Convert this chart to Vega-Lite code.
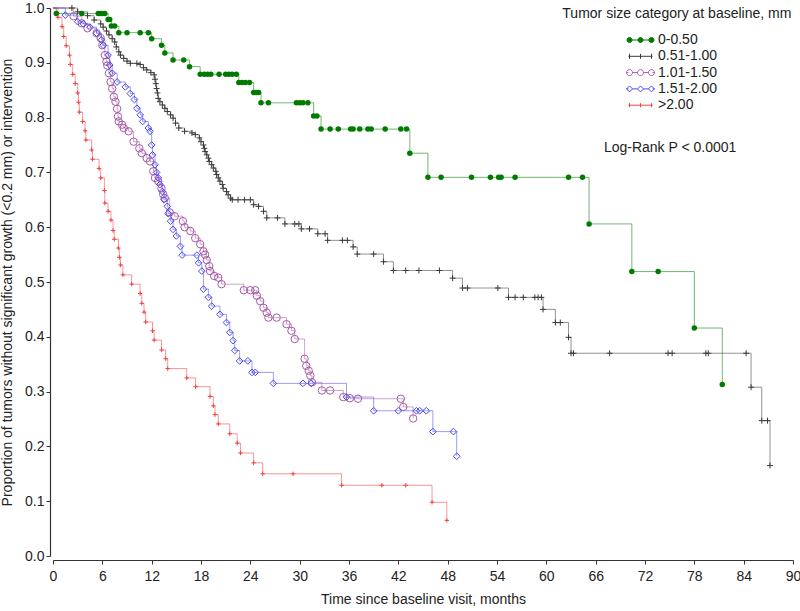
{
  "$schema": "https://vega.github.io/schema/vega-lite/v6.json",
  "width": 740,
  "height": 548,
  "autosize": {"type": "none"},
  "padding": {"left": 53, "top": 8, "right": 7, "bottom": 55},
  "background": "white",
  "config": {
    "view": {"stroke": null},
    "font": "Liberation Sans",
    "axis": {
      "grid": false,
      "labelFont": "Liberation Sans",
      "titleFont": "Liberation Sans",
      "labelFontSize": 14,
      "titleFontSize": 14,
      "titleFontWeight": "normal",
      "labelColor": "#222222",
      "titleColor": "#222222",
      "domainColor": "#333333",
      "tickColor": "#333333",
      "tickSize": 4,
      "domainWidth": 1.2
    }
  },
  "datasets": {
    "km": [
      {"g":"0-0.50","t":0,"p":1,"c":0},{"g":"0-0.50","t":0.4,"p":0.99,"c":1},{"g":"0-0.50","t":3.5,"p":0.99,"c":1},{"g":"0-0.50","t":5.5,"p":0.99,"c":1},{"g":"0-0.50","t":5.8,"p":0.99,"c":1},{"g":"0-0.50","t":6.0,"p":0.99,"c":1},{"g":"0-0.50","t":6.3,"p":0.99,"c":1},{"g":"0-0.50","t":6.7,"p":0.979,"c":1},{"g":"0-0.50","t":6.9,"p":0.979,"c":1},{"g":"0-0.50","t":7.1,"p":0.967,"c":1},{"g":"0-0.50","t":7.5,"p":0.967,"c":1},{"g":"0-0.50","t":8.0,"p":0.955,"c":1},{"g":"0-0.50","t":9.0,"p":0.955,"c":1},{"g":"0-0.50","t":10.6,"p":0.955,"c":1},{"g":"0-0.50","t":11.6,"p":0.955,"c":1},{"g":"0-0.50","t":12.0,"p":0.944,"c":1},{"g":"0-0.50","t":13.2,"p":0.932,"c":1},{"g":"0-0.50","t":13.6,"p":0.918,"c":1},{"g":"0-0.50","t":14.6,"p":0.905,"c":1},{"g":"0-0.50","t":15.9,"p":0.905,"c":1},{"g":"0-0.50","t":16.6,"p":0.893,"c":1},{"g":"0-0.50","t":17.9,"p":0.879,"c":1},{"g":"0-0.50","t":18.4,"p":0.879,"c":1},{"g":"0-0.50","t":18.8,"p":0.879,"c":1},{"g":"0-0.50","t":19.2,"p":0.879,"c":1},{"g":"0-0.50","t":20.2,"p":0.879,"c":1},{"g":"0-0.50","t":21.0,"p":0.879,"c":1},{"g":"0-0.50","t":21.4,"p":0.879,"c":1},{"g":"0-0.50","t":21.8,"p":0.879,"c":1},{"g":"0-0.50","t":22.3,"p":0.879,"c":1},{"g":"0-0.50","t":22.6,"p":0.864,"c":1},{"g":"0-0.50","t":23.0,"p":0.864,"c":1},{"g":"0-0.50","t":23.4,"p":0.864,"c":1},{"g":"0-0.50","t":23.9,"p":0.864,"c":1},{"g":"0-0.50","t":24.4,"p":0.846,"c":1},{"g":"0-0.50","t":24.7,"p":0.846,"c":1},{"g":"0-0.50","t":25.0,"p":0.846,"c":1},{"g":"0-0.50","t":25.3,"p":0.827,"c":1},{"g":"0-0.50","t":26.2,"p":0.827,"c":1},{"g":"0-0.50","t":29.6,"p":0.827,"c":1},{"g":"0-0.50","t":30.0,"p":0.827,"c":1},{"g":"0-0.50","t":30.4,"p":0.827,"c":1},{"g":"0-0.50","t":31.0,"p":0.827,"c":1},{"g":"0-0.50","t":31.7,"p":0.803,"c":1},{"g":"0-0.50","t":32.1,"p":0.803,"c":1},{"g":"0-0.50","t":32.6,"p":0.779,"c":1},{"g":"0-0.50","t":33.7,"p":0.779,"c":1},{"g":"0-0.50","t":34.7,"p":0.779,"c":1},{"g":"0-0.50","t":36.2,"p":0.779,"c":1},{"g":"0-0.50","t":36.5,"p":0.779,"c":1},{"g":"0-0.50","t":37.3,"p":0.779,"c":1},{"g":"0-0.50","t":38.3,"p":0.779,"c":1},{"g":"0-0.50","t":38.7,"p":0.779,"c":1},{"g":"0-0.50","t":40.4,"p":0.779,"c":1},{"g":"0-0.50","t":42.3,"p":0.779,"c":1},{"g":"0-0.50","t":43.0,"p":0.779,"c":1},{"g":"0-0.50","t":43.4,"p":0.735,"c":1},{"g":"0-0.50","t":45.6,"p":0.691,"c":1},{"g":"0-0.50","t":47.2,"p":0.691,"c":1},{"g":"0-0.50","t":50.9,"p":0.691,"c":1},{"g":"0-0.50","t":53.2,"p":0.691,"c":1},{"g":"0-0.50","t":54.2,"p":0.691,"c":1},{"g":"0-0.50","t":54.5,"p":0.691,"c":1},{"g":"0-0.50","t":56.2,"p":0.691,"c":1},{"g":"0-0.50","t":62.7,"p":0.691,"c":1},{"g":"0-0.50","t":64.4,"p":0.691,"c":1},{"g":"0-0.50","t":65.2,"p":0.606,"c":1},{"g":"0-0.50","t":70.4,"p":0.519,"c":1},{"g":"0-0.50","t":73.6,"p":0.519,"c":1},{"g":"0-0.50","t":78.0,"p":0.416,"c":1},{"g":"0-0.50","t":81.4,"p":0.313,"c":1},

      {"g":"0.51-1.00","t":0,"p":1,"c":0},{"g":"0.51-1.00","t":2.3,"p":1,"c":1},{"g":"0.51-1.00","t":3.0,"p":0.993,"c":1},{"g":"0.51-1.00","t":4.2,"p":0.986,"c":1},{"g":"0.51-1.00","t":5.0,"p":0.978,"c":1},{"g":"0.51-1.00","t":5.8,"p":0.971,"c":1},{"g":"0.51-1.00","t":6.1,"p":0.965,"c":1},{"g":"0.51-1.00","t":6.5,"p":0.958,"c":1},{"g":"0.51-1.00","t":6.8,"p":0.951,"c":1},{"g":"0.51-1.00","t":7.2,"p":0.944,"c":1},{"g":"0.51-1.00","t":7.5,"p":0.938,"c":1},{"g":"0.51-1.00","t":7.7,"p":0.929,"c":1},{"g":"0.51-1.00","t":8.0,"p":0.92,"c":1},{"g":"0.51-1.00","t":8.2,"p":0.914,"c":1},{"g":"0.51-1.00","t":8.6,"p":0.908,"c":1},{"g":"0.51-1.00","t":9.0,"p":0.903,"c":1},{"g":"0.51-1.00","t":9.4,"p":0.899,"c":1},{"g":"0.51-1.00","t":10.2,"p":0.899,"c":1},{"g":"0.51-1.00","t":10.6,"p":0.897,"c":1},{"g":"0.51-1.00","t":11.0,"p":0.891,"c":1},{"g":"0.51-1.00","t":11.4,"p":0.887,"c":1},{"g":"0.51-1.00","t":11.9,"p":0.882,"c":1},{"g":"0.51-1.00","t":12.3,"p":0.878,"c":1},{"g":"0.51-1.00","t":12.4,"p":0.87,"c":1},{"g":"0.51-1.00","t":12.5,"p":0.862,"c":1},{"g":"0.51-1.00","t":12.6,"p":0.853,"c":1},{"g":"0.51-1.00","t":12.7,"p":0.845,"c":1},{"g":"0.51-1.00","t":12.8,"p":0.835,"c":1},{"g":"0.51-1.00","t":13.0,"p":0.829,"c":1},{"g":"0.51-1.00","t":13.3,"p":0.823,"c":1},{"g":"0.51-1.00","t":13.6,"p":0.817,"c":1},{"g":"0.51-1.00","t":13.9,"p":0.811,"c":1},{"g":"0.51-1.00","t":14.3,"p":0.805,"c":1},{"g":"0.51-1.00","t":14.6,"p":0.799,"c":1},{"g":"0.51-1.00","t":14.9,"p":0.79,"c":1},{"g":"0.51-1.00","t":15.3,"p":0.781,"c":1},{"g":"0.51-1.00","t":16.0,"p":0.775,"c":1},{"g":"0.51-1.00","t":16.9,"p":0.772,"c":1},{"g":"0.51-1.00","t":17.3,"p":0.769,"c":1},{"g":"0.51-1.00","t":17.8,"p":0.763,"c":1},{"g":"0.51-1.00","t":18.0,"p":0.756,"c":1},{"g":"0.51-1.00","t":18.3,"p":0.75,"c":1},{"g":"0.51-1.00","t":18.4,"p":0.744,"c":1},{"g":"0.51-1.00","t":18.5,"p":0.738,"c":1},{"g":"0.51-1.00","t":18.7,"p":0.732,"c":1},{"g":"0.51-1.00","t":18.9,"p":0.726,"c":1},{"g":"0.51-1.00","t":19.0,"p":0.72,"c":1},{"g":"0.51-1.00","t":19.3,"p":0.714,"c":1},{"g":"0.51-1.00","t":19.5,"p":0.708,"c":1},{"g":"0.51-1.00","t":19.8,"p":0.702,"c":1},{"g":"0.51-1.00","t":19.9,"p":0.696,"c":1},{"g":"0.51-1.00","t":20.1,"p":0.69,"c":1},{"g":"0.51-1.00","t":20.3,"p":0.684,"c":1},{"g":"0.51-1.00","t":20.6,"p":0.678,"c":1},{"g":"0.51-1.00","t":20.7,"p":0.671,"c":1},{"g":"0.51-1.00","t":21.1,"p":0.665,"c":1},{"g":"0.51-1.00","t":21.3,"p":0.659,"c":1},{"g":"0.51-1.00","t":21.6,"p":0.653,"c":1},{"g":"0.51-1.00","t":21.8,"p":0.65,"c":1},{"g":"0.51-1.00","t":22.5,"p":0.65,"c":1},{"g":"0.51-1.00","t":23.3,"p":0.65,"c":1},{"g":"0.51-1.00","t":24.0,"p":0.65,"c":1},{"g":"0.51-1.00","t":24.4,"p":0.641,"c":1},{"g":"0.51-1.00","t":25.0,"p":0.638,"c":1},{"g":"0.51-1.00","t":25.6,"p":0.629,"c":1},{"g":"0.51-1.00","t":26.0,"p":0.617,"c":1},{"g":"0.51-1.00","t":27.3,"p":0.617,"c":1},{"g":"0.51-1.00","t":28.2,"p":0.606,"c":1},{"g":"0.51-1.00","t":29.4,"p":0.606,"c":1},{"g":"0.51-1.00","t":29.9,"p":0.606,"c":1},{"g":"0.51-1.00","t":30.2,"p":0.597,"c":1},{"g":"0.51-1.00","t":31.2,"p":0.597,"c":1},{"g":"0.51-1.00","t":32.2,"p":0.588,"c":1},{"g":"0.51-1.00","t":33.1,"p":0.588,"c":1},{"g":"0.51-1.00","t":33.4,"p":0.576,"c":1},{"g":"0.51-1.00","t":35.2,"p":0.576,"c":1},{"g":"0.51-1.00","t":35.8,"p":0.576,"c":1},{"g":"0.51-1.00","t":36.5,"p":0.564,"c":1},{"g":"0.51-1.00","t":37.0,"p":0.551,"c":1},{"g":"0.51-1.00","t":39.0,"p":0.551,"c":1},{"g":"0.51-1.00","t":40.2,"p":0.537,"c":1},{"g":"0.51-1.00","t":41.4,"p":0.521,"c":1},{"g":"0.51-1.00","t":42.9,"p":0.521,"c":1},{"g":"0.51-1.00","t":44.5,"p":0.521,"c":1},{"g":"0.51-1.00","t":47.0,"p":0.521,"c":1},{"g":"0.51-1.00","t":48.6,"p":0.507,"c":1},{"g":"0.51-1.00","t":49.8,"p":0.489,"c":1},{"g":"0.51-1.00","t":50.4,"p":0.489,"c":1},{"g":"0.51-1.00","t":54.1,"p":0.489,"c":1},{"g":"0.51-1.00","t":55.4,"p":0.472,"c":1},{"g":"0.51-1.00","t":56.2,"p":0.472,"c":1},{"g":"0.51-1.00","t":57.2,"p":0.472,"c":1},{"g":"0.51-1.00","t":58.6,"p":0.472,"c":1},{"g":"0.51-1.00","t":59.0,"p":0.472,"c":1},{"g":"0.51-1.00","t":59.4,"p":0.472,"c":1},{"g":"0.51-1.00","t":59.6,"p":0.45,"c":1},{"g":"0.51-1.00","t":61.1,"p":0.426,"c":1},{"g":"0.51-1.00","t":61.7,"p":0.426,"c":1},{"g":"0.51-1.00","t":62.7,"p":0.399,"c":1},{"g":"0.51-1.00","t":63.0,"p":0.37,"c":1},{"g":"0.51-1.00","t":63.3,"p":0.37,"c":1},{"g":"0.51-1.00","t":67.7,"p":0.37,"c":1},{"g":"0.51-1.00","t":74.8,"p":0.37,"c":1},{"g":"0.51-1.00","t":75.3,"p":0.37,"c":1},{"g":"0.51-1.00","t":79.4,"p":0.37,"c":1},{"g":"0.51-1.00","t":79.7,"p":0.37,"c":1},{"g":"0.51-1.00","t":84.3,"p":0.37,"c":1},{"g":"0.51-1.00","t":84.9,"p":0.308,"c":1},{"g":"0.51-1.00","t":86.2,"p":0.247,"c":1},{"g":"0.51-1.00","t":86.9,"p":0.247,"c":1},{"g":"0.51-1.00","t":87.2,"p":0.165,"c":1},

      {"g":"1.01-1.50","t":0,"p":1,"c":0},{"g":"1.01-1.50","t":2.5,"p":0.985,"c":1},{"g":"1.01-1.50","t":3.5,"p":0.972,"c":1},{"g":"1.01-1.50","t":4.2,"p":0.963,"c":1},{"g":"1.01-1.50","t":5.3,"p":0.954,"c":1},{"g":"1.01-1.50","t":5.8,"p":0.945,"c":1},{"g":"1.01-1.50","t":6.0,"p":0.932,"c":1},{"g":"1.01-1.50","t":6.3,"p":0.914,"c":1},{"g":"1.01-1.50","t":6.5,"p":0.902,"c":1},{"g":"1.01-1.50","t":6.6,"p":0.895,"c":1},{"g":"1.01-1.50","t":6.8,"p":0.881,"c":1},{"g":"1.01-1.50","t":7.0,"p":0.865,"c":1},{"g":"1.01-1.50","t":7.2,"p":0.853,"c":1},{"g":"1.01-1.50","t":7.4,"p":0.838,"c":1},{"g":"1.01-1.50","t":7.6,"p":0.829,"c":1},{"g":"1.01-1.50","t":7.8,"p":0.816,"c":1},{"g":"1.01-1.50","t":7.9,"p":0.802,"c":1},{"g":"1.01-1.50","t":8.0,"p":0.793,"c":1},{"g":"1.01-1.50","t":8.4,"p":0.787,"c":1},{"g":"1.01-1.50","t":8.6,"p":0.781,"c":1},{"g":"1.01-1.50","t":9.2,"p":0.775,"c":1},{"g":"1.01-1.50","t":9.8,"p":0.756,"c":1},{"g":"1.01-1.50","t":10.5,"p":0.744,"c":1},{"g":"1.01-1.50","t":10.8,"p":0.735,"c":1},{"g":"1.01-1.50","t":11.4,"p":0.726,"c":1},{"g":"1.01-1.50","t":11.8,"p":0.72,"c":1},{"g":"1.01-1.50","t":12.2,"p":0.702,"c":1},{"g":"1.01-1.50","t":12.4,"p":0.69,"c":1},{"g":"1.01-1.50","t":12.8,"p":0.684,"c":1},{"g":"1.01-1.50","t":13.2,"p":0.671,"c":1},{"g":"1.01-1.50","t":13.4,"p":0.66,"c":1},{"g":"1.01-1.50","t":13.6,"p":0.653,"c":1},{"g":"1.01-1.50","t":14.2,"p":0.627,"c":1},{"g":"1.01-1.50","t":14.8,"p":0.62,"c":1},{"g":"1.01-1.50","t":15.8,"p":0.611,"c":1},{"g":"1.01-1.50","t":16.0,"p":0.6,"c":1},{"g":"1.01-1.50","t":16.7,"p":0.593,"c":1},{"g":"1.01-1.50","t":17.3,"p":0.58,"c":1},{"g":"1.01-1.50","t":17.9,"p":0.569,"c":1},{"g":"1.01-1.50","t":18.3,"p":0.556,"c":1},{"g":"1.01-1.50","t":18.5,"p":0.55,"c":1},{"g":"1.01-1.50","t":18.7,"p":0.54,"c":1},{"g":"1.01-1.50","t":19.0,"p":0.529,"c":1},{"g":"1.01-1.50","t":19.1,"p":0.52,"c":1},{"g":"1.01-1.50","t":19.6,"p":0.511,"c":1},{"g":"1.01-1.50","t":20.1,"p":0.508,"c":1},{"g":"1.01-1.50","t":20.5,"p":0.496,"c":1},{"g":"1.01-1.50","t":23.2,"p":0.485,"c":1},{"g":"1.01-1.50","t":24.0,"p":0.485,"c":1},{"g":"1.01-1.50","t":24.6,"p":0.485,"c":1},{"g":"1.01-1.50","t":24.8,"p":0.475,"c":1},{"g":"1.01-1.50","t":25.2,"p":0.465,"c":1},{"g":"1.01-1.50","t":25.6,"p":0.453,"c":1},{"g":"1.01-1.50","t":26.0,"p":0.444,"c":1},{"g":"1.01-1.50","t":26.2,"p":0.435,"c":1},{"g":"1.01-1.50","t":27.2,"p":0.435,"c":1},{"g":"1.01-1.50","t":28.4,"p":0.423,"c":1},{"g":"1.01-1.50","t":29.0,"p":0.411,"c":1},{"g":"1.01-1.50","t":29.4,"p":0.396,"c":1},{"g":"1.01-1.50","t":30.6,"p":0.36,"c":1},{"g":"1.01-1.50","t":30.8,"p":0.347,"c":1},{"g":"1.01-1.50","t":31.1,"p":0.338,"c":1},{"g":"1.01-1.50","t":31.3,"p":0.329,"c":1},{"g":"1.01-1.50","t":31.5,"p":0.317,"c":1},{"g":"1.01-1.50","t":32.7,"p":0.302,"c":1},{"g":"1.01-1.50","t":33.7,"p":0.302,"c":1},{"g":"1.01-1.50","t":35.3,"p":0.29,"c":1},{"g":"1.01-1.50","t":36.1,"p":0.288,"c":1},{"g":"1.01-1.50","t":37.1,"p":0.287,"c":1},{"g":"1.01-1.50","t":42.3,"p":0.287,"c":1},{"g":"1.01-1.50","t":42.6,"p":0.272,"c":1},{"g":"1.01-1.50","t":43.8,"p":0.251,"c":1},

      {"g":"1.51-2.00","t":0,"p":1,"c":0},{"g":"1.51-2.00","t":1.5,"p":0.987,"c":1},{"g":"1.51-2.00","t":3.0,"p":0.975,"c":1},{"g":"1.51-2.00","t":3.7,"p":0.971,"c":1},{"g":"1.51-2.00","t":4.5,"p":0.965,"c":1},{"g":"1.51-2.00","t":5.3,"p":0.954,"c":1},{"g":"1.51-2.00","t":5.9,"p":0.942,"c":1},{"g":"1.51-2.00","t":6.1,"p":0.932,"c":1},{"g":"1.51-2.00","t":6.7,"p":0.914,"c":1},{"g":"1.51-2.00","t":6.9,"p":0.896,"c":1},{"g":"1.51-2.00","t":7.2,"p":0.881,"c":1},{"g":"1.51-2.00","t":7.8,"p":0.865,"c":1},{"g":"1.51-2.00","t":8.8,"p":0.856,"c":1},{"g":"1.51-2.00","t":9.4,"p":0.844,"c":1},{"g":"1.51-2.00","t":9.9,"p":0.833,"c":1},{"g":"1.51-2.00","t":10.2,"p":0.817,"c":1},{"g":"1.51-2.00","t":10.6,"p":0.805,"c":1},{"g":"1.51-2.00","t":10.9,"p":0.793,"c":1},{"g":"1.51-2.00","t":11.6,"p":0.781,"c":1},{"g":"1.51-2.00","t":11.8,"p":0.775,"c":1},{"g":"1.51-2.00","t":12.0,"p":0.75,"c":1},{"g":"1.51-2.00","t":12.1,"p":0.732,"c":1},{"g":"1.51-2.00","t":12.4,"p":0.714,"c":1},{"g":"1.51-2.00","t":12.6,"p":0.7,"c":1},{"g":"1.51-2.00","t":12.8,"p":0.69,"c":1},{"g":"1.51-2.00","t":13.0,"p":0.678,"c":1},{"g":"1.51-2.00","t":13.3,"p":0.665,"c":1},{"g":"1.51-2.00","t":13.5,"p":0.65,"c":1},{"g":"1.51-2.00","t":13.9,"p":0.638,"c":1},{"g":"1.51-2.00","t":14.0,"p":0.625,"c":1},{"g":"1.51-2.00","t":14.3,"p":0.611,"c":1},{"g":"1.51-2.00","t":14.6,"p":0.596,"c":1},{"g":"1.51-2.00","t":15.0,"p":0.584,"c":1},{"g":"1.51-2.00","t":15.5,"p":0.565,"c":1},{"g":"1.51-2.00","t":15.7,"p":0.549,"c":1},{"g":"1.51-2.00","t":17.5,"p":0.549,"c":1},{"g":"1.51-2.00","t":17.7,"p":0.535,"c":1},{"g":"1.51-2.00","t":18.1,"p":0.52,"c":1},{"g":"1.51-2.00","t":18.3,"p":0.487,"c":1},{"g":"1.51-2.00","t":18.9,"p":0.472,"c":1},{"g":"1.51-2.00","t":19.3,"p":0.456,"c":1},{"g":"1.51-2.00","t":20.3,"p":0.441,"c":1},{"g":"1.51-2.00","t":21.1,"p":0.426,"c":1},{"g":"1.51-2.00","t":21.5,"p":0.408,"c":1},{"g":"1.51-2.00","t":21.9,"p":0.393,"c":1},{"g":"1.51-2.00","t":22.1,"p":0.375,"c":1},{"g":"1.51-2.00","t":22.7,"p":0.356,"c":1},{"g":"1.51-2.00","t":23.7,"p":0.356,"c":1},{"g":"1.51-2.00","t":24.2,"p":0.335,"c":1},{"g":"1.51-2.00","t":24.6,"p":0.335,"c":1},{"g":"1.51-2.00","t":26.8,"p":0.315,"c":1},{"g":"1.51-2.00","t":30.4,"p":0.315,"c":1},{"g":"1.51-2.00","t":31.4,"p":0.315,"c":1},{"g":"1.51-2.00","t":35.7,"p":0.29,"c":1},{"g":"1.51-2.00","t":39.0,"p":0.265,"c":1},{"g":"1.51-2.00","t":42.0,"p":0.265,"c":1},{"g":"1.51-2.00","t":44.2,"p":0.265,"c":1},{"g":"1.51-2.00","t":44.6,"p":0.265,"c":1},{"g":"1.51-2.00","t":45.4,"p":0.265,"c":1},{"g":"1.51-2.00","t":46.2,"p":0.227,"c":1},{"g":"1.51-2.00","t":48.7,"p":0.227,"c":1},{"g":"1.51-2.00","t":49.1,"p":0.182,"c":1},

      {"g":">2.00","t":0,"p":1,"c":0},{"g":">2.00","t":0.6,"p":0.983,"c":1},{"g":">2.00","t":1.1,"p":0.966,"c":1},{"g":">2.00","t":1.3,"p":0.948,"c":1},{"g":">2.00","t":1.6,"p":0.931,"c":1},{"g":">2.00","t":2.0,"p":0.914,"c":1},{"g":">2.00","t":2.1,"p":0.897,"c":1},{"g":">2.00","t":2.4,"p":0.879,"c":1},{"g":">2.00","t":2.7,"p":0.862,"c":1},{"g":">2.00","t":3.0,"p":0.845,"c":1},{"g":">2.00","t":3.1,"p":0.828,"c":1},{"g":">2.00","t":3.2,"p":0.81,"c":1},{"g":">2.00","t":3.6,"p":0.793,"c":1},{"g":">2.00","t":3.9,"p":0.776,"c":1},{"g":">2.00","t":4.0,"p":0.759,"c":1},{"g":">2.00","t":4.7,"p":0.741,"c":1},{"g":">2.00","t":4.8,"p":0.724,"c":1},{"g":">2.00","t":5.6,"p":0.707,"c":1},{"g":">2.00","t":5.8,"p":0.69,"c":1},{"g":">2.00","t":6.25,"p":0.667,"c":1},{"g":">2.00","t":6.3,"p":0.644,"c":1},{"g":">2.00","t":6.7,"p":0.629,"c":1},{"g":">2.00","t":7.05,"p":0.613,"c":1},{"g":">2.00","t":7.3,"p":0.594,"c":1},{"g":">2.00","t":7.45,"p":0.578,"c":1},{"g":">2.00","t":7.95,"p":0.562,"c":1},{"g":">2.00","t":8.07,"p":0.545,"c":1},{"g":">2.00","t":8.2,"p":0.531,"c":1},{"g":">2.00","t":8.5,"p":0.513,"c":1},{"g":">2.00","t":9.57,"p":0.496,"c":1},{"g":">2.00","t":10.6,"p":0.479,"c":1},{"g":">2.00","t":10.8,"p":0.461,"c":1},{"g":">2.00","t":11.07,"p":0.445,"c":1},{"g":">2.00","t":11.27,"p":0.427,"c":1},{"g":">2.00","t":12.1,"p":0.411,"c":1},{"g":">2.00","t":12.3,"p":0.394,"c":1},{"g":">2.00","t":13.2,"p":0.376,"c":1},{"g":">2.00","t":13.7,"p":0.36,"c":1},{"g":">2.00","t":13.95,"p":0.342,"c":1},{"g":">2.00","t":16.26,"p":0.325,"c":1},{"g":">2.00","t":17.35,"p":0.309,"c":1},{"g":">2.00","t":19.1,"p":0.291,"c":1},{"g":">2.00","t":19.5,"p":0.274,"c":1},{"g":">2.00","t":19.7,"p":0.258,"c":1},{"g":">2.00","t":20.1,"p":0.241,"c":1},{"g":">2.00","t":21.5,"p":0.223,"c":1},{"g":">2.00","t":22.4,"p":0.206,"c":1},{"g":">2.00","t":22.8,"p":0.188,"c":1},{"g":">2.00","t":24.4,"p":0.17,"c":1},{"g":">2.00","t":25.5,"p":0.15,"c":1},{"g":">2.00","t":29.2,"p":0.15,"c":1},{"g":">2.00","t":35.1,"p":0.129,"c":1},{"g":">2.00","t":40.0,"p":0.129,"c":1},{"g":">2.00","t":42.9,"p":0.129,"c":1},{"g":">2.00","t":46.1,"p":0.098,"c":1},{"g":">2.00","t":47.9,"p":0.065,"c":1}
    ]
  },
  "encoding": {
    "x": {
      "field": "t", "type": "quantitative",
      "scale": {"domain": [0, 90], "nice": false, "zero": false},
      "axis": {"values": [0,6,12,18,24,30,36,42,48,54,60,66,72,78,84,90], "title": "Time since baseline visit, months", "offset": 4, "labelPadding": 5, "titlePadding": 9, "labelFlush": false}
    },
    "y": {
      "field": "p", "type": "quantitative",
      "scale": {"domain": [0, 1], "nice": false},
      "axis": {"values": [0,0.1,0.2,0.3,0.4,0.5,0.6,0.7,0.8,0.9,1], "format": ".1f", "title": "Proportion of tumors without significant growth (<0.2 mm) or intervention", "offset": 3, "labelPadding": 2, "titlePadding": 10, "labelFlush": false}
    }
  },
  "layer": [
    {
      "data": {"name": "km"},
      "mark": {"type": "line", "interpolate": "step-after", "strokeWidth": 1, "strokeOpacity": 0.55},
      "encoding": {
        "color": {
          "field": "g", "type": "nominal",
          "scale": {"domain": ["0-0.50","0.51-1.00","1.01-1.50","1.51-2.00",">2.00"], "range": ["#007a00","#3a3a3a","#a65aa6","#4a4af0","#f04040"]},
          "legend": {
            "title": null,
            "orient": "none",
            "legendX": 580.5,
            "legendY": 25,
            "padding": 0,
            "labelFont": "Liberation Sans",
            "labelFontSize": 14,
            "labelColor": "#222222",
            "labelOffset": 10.5,
            "symbolSize": 100,
            "symbolStrokeWidth": 1,
            "rowPadding": 2.3
          }
        }
      }
    },
    {
      "data": {"name": "km"},
      "transform": [{"filter": "false"}],
      "mark": {"type": "point", "opacity": 1},
      "encoding": {
        "shape": {
          "field": "g", "type": "nominal",
          "scale": {"domain": ["0-0.50","0.51-1.00","1.01-1.50","1.51-2.00",">2.00"], "range": [
            "M-2.4,0H2.4M-2.7,0A0.5,0.5,0,1,0,-1.7,0A0.5,0.5,0,1,0,-2.7,0ZM-0.5,0A0.5,0.5,0,1,0,0.5,0A0.5,0.5,0,1,0,-0.5,0ZM1.7,0A0.5,0.5,0,1,0,2.7,0A0.5,0.5,0,1,0,1.7,0Z",
            "M-2.4,0H2.4M-2.2,-0.5V0.5M0,-0.5V0.5M2.2,-0.5V0.5",
            "M-2.4,0H-2.8M-1.6,0H-0.6M0.6,0H1.6M2.8,0H2.4M-2.8,0A0.6,0.6,0,1,0,-1.6,0A0.6,0.6,0,1,0,-2.8,0ZM-0.6,0A0.6,0.6,0,1,0,0.6,0A0.6,0.6,0,1,0,-0.6,0ZM1.6,0A0.6,0.6,0,1,0,2.8,0A0.6,0.6,0,1,0,1.6,0Z",
            "M-2.4,0H-2.8M-1.6,0H-0.6M0.6,0H1.6M2.8,0H2.4M-2.2,-0.6L-1.6,0L-2.2,0.6L-2.8,0ZM0,-0.6L0.6,0L0,0.6L-0.6,0ZM2.2,-0.6L2.8,0L2.2,0.6L1.6,0Z",
            "M-2.4,0H2.4M-2.2,-0.4V0.4M0,-0.4V0.4M2.2,-0.4V0.4"
          ]},
          "legend": null
        },
        "fill": {
          "field": "g", "type": "nominal",
          "scale": {"domain": ["0-0.50","0.51-1.00","1.01-1.50","1.51-2.00",">2.00"], "range": ["#007a00","transparent","transparent","transparent","transparent"]},
          "legend": null
        }
      }
    },
    {
      "data": {"name": "km"},
      "transform": [{"filter": "datum.c == 1 && datum.g === '0-0.50'"}],
      "mark": {"type": "point", "shape": "circle", "filled": true, "color": "#007a00", "size": 30, "opacity": 1}
    },
    {
      "data": {"name": "km"},
      "transform": [{"filter": "datum.c == 1 && datum.g === '0.51-1.00'"}],
      "mark": {"type": "point", "shape": "M-1,0H1M0,-1V1", "filled": false, "stroke": "#3a3a3a", "strokeWidth": 1, "size": 36, "opacity": 1}
    },
    {
      "data": {"name": "km"},
      "transform": [{"filter": "datum.c == 1 && datum.g === '1.01-1.50'"}],
      "mark": {"type": "point", "shape": "circle", "filled": false, "stroke": "#a65aa6", "strokeWidth": 1, "size": 55, "opacity": 1}
    },
    {
      "data": {"name": "km"},
      "transform": [{"filter": "datum.c == 1 && datum.g === '1.51-2.00'"}],
      "mark": {"type": "point", "shape": "diamond", "filled": false, "stroke": "#4a4af0", "strokeWidth": 1, "size": 45, "opacity": 1}
    },
    {
      "data": {"name": "km"},
      "transform": [{"filter": "datum.c == 1 && datum.g === '>2.00'"}],
      "mark": {"type": "point", "shape": "M-1,0H1M0,-1V1", "filled": false, "stroke": "#f04040", "strokeWidth": 1, "size": 20, "opacity": 1}
    },
    {
      "data": {"values": [{"t": 89.8, "p": 0.989, "label": "Tumor size category at baseline, mm"}]},
      "mark": {"type": "text", "align": "right", "baseline": "middle", "fontSize": 14, "font": "Liberation Sans", "color": "#222222"},
      "encoding": {"text": {"field": "label", "type": "nominal"}}
    },
    {
      "data": {"values": [{"t": 67.0, "p": 0.745, "label": "Log-Rank P < 0.0001"}]},
      "mark": {"type": "text", "align": "left", "baseline": "middle", "fontSize": 14, "font": "Liberation Sans", "color": "#222222"},
      "encoding": {"text": {"field": "label", "type": "nominal"}}
    }
  ]
}
